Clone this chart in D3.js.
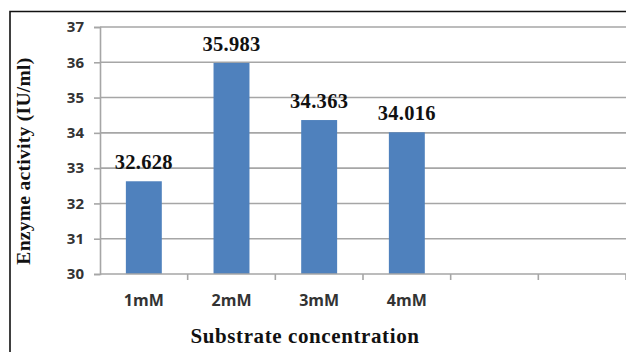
<!DOCTYPE html>
<html>
<head>
<meta charset="utf-8">
<script src="https://cdn.jsdelivr.net/npm/d3@7"></script>
<style>
  html, body { margin: 0; padding: 0; background: #fff; }
  svg { display: block; }
</style>
</head>
<body>
<svg id="chart" width="626" height="352"></svg>
<script>
// Enzyme activity by substrate concentration
const categories = ["1mM", "2mM", "3mM", "4mM", "", " "];
const activity = [32.628, 35.983, 34.363, 34.016];
const yTicks = [30, 31, 32, 33, 34, 35, 36, 37];

const svg = d3.select("#chart");
const W = 626, H = 352;
const plot = { left: 100, right: 626, top: 27, bottom: 274 };
const serif = "Liberation Serif, Times New Roman, serif";
const sans = "Open Sans, sans-serif";

// outer frame (top and left edges)
svg.append("path")
  .attr("d", `M10,${H} L10,11.5 L${W},11.5`)
  .attr("fill", "none").attr("stroke", "#111").attr("stroke-width", 1.6);

const x = d3.scaleBand().domain(categories).range([plot.left, plot.right]).paddingInner(0.59).paddingOuter(0.295);
const xSlots = d3.scaleBand().domain(categories).range([plot.left, plot.right]);
const y = d3.scaleLinear().domain([30, 37]).range([plot.bottom, plot.top]);

// horizontal gridlines
svg.append("g").selectAll("line").data(yTicks.slice(1)).join("line")
  .attr("x1", plot.left).attr("x2", plot.right)
  .attr("y1", d => y(d)).attr("y2", d => y(d))
  .attr("stroke", "#a6a6a6").attr("stroke-width", 1.6);

// bars
svg.append("g").selectAll("rect").data(activity).join("rect")
  .attr("x", (d, i) => x(categories[i]))
  .attr("width", x.bandwidth())
  .attr("y", d => y(d))
  .attr("height", d => y(30) - y(d))
  .attr("fill", "#4f81bd");

// value labels
svg.append("g").selectAll("text").data(activity).join("text")
  .attr("x", (d, i) => x(categories[i]) + x.bandwidth() / 2)
  .attr("y", d => y(d) - 12)
  .attr("text-anchor", "middle")
  .attr("font-family", serif)
  .attr("font-weight", "bold").attr("font-size", 20.5)
  .attr("letter-spacing", 0.3).attr("fill", "#111")
  .text(d => d.toFixed(3));

// y axis
const yAxis = svg.append("g").attr("transform", `translate(${plot.left},0)`)
  .call(d3.axisLeft(y).tickValues(yTicks).tickSize(6).tickPadding(10).tickFormat(d3.format("d")));
yAxis.select(".domain").attr("stroke", "#a6a6a6").attr("stroke-width", 1.6);
yAxis.selectAll(".tick line").attr("stroke", "#a6a6a6").attr("stroke-width", 1.6);
yAxis.selectAll(".tick text")
  .attr("font-family", sans).attr("font-weight", "bold")
  .attr("font-size", 15).attr("fill", "#333");

// x axis with boundary ticks between slots
const xAxisG = svg.append("g").attr("transform", `translate(0,${plot.bottom})`);
xAxisG.append("line").attr("x1", plot.left).attr("x2", plot.right)
  .attr("stroke", "#a6a6a6").attr("stroke-width", 1.6);
xAxisG.selectAll("line.tk").data(categories).join("line").attr("class", "tk")
  .attr("x1", d => xSlots(d) + xSlots.bandwidth()).attr("x2", d => xSlots(d) + xSlots.bandwidth())
  .attr("y1", 0).attr("y2", 6)
  .attr("stroke", "#a6a6a6").attr("stroke-width", 1.6);
xAxisG.selectAll("text").data(categories).join("text")
  .attr("x", d => xSlots(d) + xSlots.bandwidth() / 2)
  .attr("y", 32)
  .attr("text-anchor", "middle")
  .attr("font-family", sans).attr("font-weight", "bold")
  .attr("font-size", 16).attr("fill", "#333")
  .text(d => d.trim());

// axis titles
svg.append("text")
  .attr("x", 305).attr("y", 343)
  .attr("text-anchor", "middle")
  .attr("font-family", serif)
  .attr("font-weight", "bold").attr("font-size", 21)
  .attr("letter-spacing", 0.6).attr("fill", "#111")
  .text("Substrate concentration");

svg.append("text")
  .attr("transform", "translate(30,161) rotate(-90)")
  .attr("text-anchor", "middle")
  .attr("font-family", serif)
  .attr("font-weight", "bold").attr("font-size", 19.5)
  .attr("letter-spacing", 0.3).attr("fill", "#111")
  .text("Enzyme activity (IU/ml)");
</script>
</body>
</html>
